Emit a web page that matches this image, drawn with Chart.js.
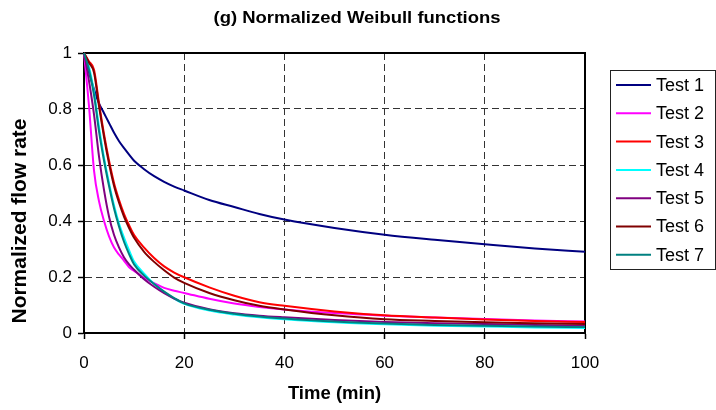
<!DOCTYPE html>
<html>
<head>
<meta charset="utf-8">
<script src="https://cdn.jsdelivr.net/npm/chart.js@4/dist/chart.umd.min.js"></script>
<style>
html,body{margin:0;padding:0;background:#fff;}
#wrap{width:716px;height:410px;}
</style>
</head>
<body>
<div id="wrap"><canvas id="c" width="716" height="410"></canvas></div>
<script>
const chartTitle = "(g) Normalized Weibull functions";
const xTitle = "Time (min)";
const yTitle = "Normalized flow rate";
const seriesNames = ["Test 1","Test 2","Test 3","Test 4","Test 5","Test 6","Test 7"];
const seriesColors = ["#000080","#FF00FF","#FF0000","#00FFFF","#800080","#800000","#008080"];
const xTicks = [0,20,40,60,80,100];
const yTicks = [0,0.2,0.4,0.6,0.8,1];
const yTickLabels = ["0","0.2","0.4","0.6","0.8","1"];

const times = [0,1,2,3,4,5,6,7,8,9,10,12,14,16,18,20,25,30,35,40,50,60,70,80,90,100];
const test1 = [1,0.93,0.87,0.82,0.785,0.75,0.715,0.685,0.66,0.637,0.615,0.585,0.56,0.54,0.523,0.509,0.475,0.45,0.425,0.405,0.375,0.351,0.333,0.317,0.302,0.29];
const test2 = [1,0.81,0.58,0.47,0.40,0.345,0.305,0.28,0.258,0.235,0.222,0.197,0.178,0.161,0.151,0.143,0.122,0.105,0.093,0.084,0.071,0.062,0.055,0.05,0.045,0.041];
const test3 = [1,0.97,0.94,0.82,0.71,0.615,0.535,0.475,0.425,0.385,0.35,0.305,0.268,0.238,0.216,0.199,0.163,0.133,0.11,0.097,0.077,0.063,0.055,0.048,0.043,0.039];
const test4 = [1,0.95,0.86,0.735,0.625,0.535,0.455,0.39,0.34,0.295,0.255,0.212,0.175,0.146,0.123,0.104,0.08,0.066,0.056,0.049,0.038,0.031,0.026,0.023,0.02,0.018];
const test5 = [1,0.9,0.78,0.63,0.51,0.415,0.35,0.305,0.27,0.245,0.226,0.192,0.165,0.142,0.123,0.108,0.085,0.071,0.062,0.056,0.046,0.039,0.035,0.032,0.029,0.026];
const test6 = [1,0.965,0.93,0.81,0.70,0.605,0.525,0.465,0.415,0.375,0.34,0.29,0.254,0.224,0.198,0.179,0.143,0.117,0.097,0.084,0.063,0.049,0.043,0.038,0.035,0.032];
const test7 = [1,0.94,0.85,0.72,0.615,0.525,0.445,0.38,0.325,0.282,0.245,0.205,0.175,0.148,0.125,0.106,0.083,0.069,0.059,0.052,0.041,0.034,0.029,0.026,0.023,0.021];

const allSeries = [test1,test2,test3,test4,test5,test6,test7];
const FONT = "'Liberation Sans', Arial, sans-serif";

const datasets = allSeries.map((arr, i) => ({
  label: seriesNames[i],
  data: times.map((t, k) => ({x: t, y: arr[k]})),
  borderColor: seriesColors[i],
  backgroundColor: seriesColors[i],
  borderWidth: 2,
  pointRadius: 0,
  fill: false,
  cubicInterpolationMode: 'monotone',
  clip: false,
  order: allSeries.length - 1 - i
}));

const decor = {
  id: 'decor',
  beforeDatasetsDraw(chart) {
    const ctx = chart.ctx, a = chart.chartArea;
    ctx.save();
    ctx.strokeStyle = '#000';
    ctx.lineWidth = 2;
    ctx.beginPath();
    ctx.moveTo(a.left, a.top);
    ctx.lineTo(a.right, a.top);
    ctx.lineTo(a.right, a.bottom);
    ctx.stroke();
    ctx.restore();
  },
  afterDraw(chart) {
    const ctx = chart.ctx, a = chart.chartArea;
    ctx.save();
    ctx.fillStyle = '#000';
    // chart title
    ctx.font = "bold 16px " + FONT;
    ctx.textAlign = 'center';
    ctx.textBaseline = 'middle';
    const tw = ctx.measureText(chartTitle).width;
    ctx.save();
    ctx.translate(357, 19);
    ctx.scale(287 / tw, 1);
    ctx.fillText(chartTitle, 0, 0);
    ctx.restore();
    // x title
    ctx.font = "bold 18.5px " + FONT;
    ctx.fillText(xTitle, (a.left + a.right) / 2, 394);
    // y title
    ctx.save();
    ctx.translate(20, 221);
    ctx.rotate(-Math.PI / 2);
    ctx.font = "bold 20px " + FONT;
    const yw = ctx.measureText(yTitle).width;
    ctx.scale(205 / yw, 1);
    ctx.fillText(yTitle, 0, 0);
    ctx.restore();
    // legend
    const lx = 610.5, ly = 70.5, lw = 105, lh = 199;
    ctx.strokeStyle = '#222';
    ctx.lineWidth = 1;
    ctx.strokeRect(lx, ly, lw, lh);
    ctx.font = "18px " + FONT;
    ctx.textAlign = 'left';
    ctx.textBaseline = 'middle';
    chart.data.datasets.forEach((ds, i) => {
      const yy = 85 + i * 28.3;
      ctx.strokeStyle = ds.borderColor;
      ctx.lineWidth = 2;
      ctx.beginPath();
      ctx.moveTo(616, yy);
      ctx.lineTo(651, yy);
      ctx.stroke();
      ctx.fillStyle = '#000';
      ctx.fillText(ds.label, 656, yy + 1);
    });
    ctx.restore();
  }
};

new Chart(document.getElementById('c'), {
  type: 'line',
  data: { datasets },
  options: {
    responsive: false,
    animation: false,
    events: [],
    layout: { padding: { left: 40, top: 53, right: 131, bottom: 0 } },
    plugins: { legend: { display: false }, tooltip: { enabled: false }, title: { display: false } },
    scales: {
      x: {
        type: 'linear', min: 0, max: 100,
        afterBuildTicks: s => { s.ticks = xTicks.map(v => ({value: v})); },
        ticks: { color: '#000', font: { family: FONT, size: 17 }, padding: 14, maxRotation: 0, autoSkip: false,
                 callback: v => String(xTicks[xTicks.indexOf(v)] ?? v) },
        grid: { color: '#333', lineWidth: 1, tickLength: 6, tickColor: '#000', tickWidth: 1.5, tickBorderDash: [] },
        border: { color: '#000', width: 2, dash: [7, 4] },
        afterFit: s => { s.height = 77; }
      },
      y: {
        type: 'linear', min: 0, max: 1,
        afterBuildTicks: s => { s.ticks = yTicks.map(v => ({value: v})); },
        ticks: { color: '#000', font: { family: FONT, size: 17 }, padding: 6, autoSkip: false,
                 callback: (v, i) => yTickLabels[i] },
        grid: { color: '#333', lineWidth: 1, tickLength: 6, tickColor: '#000', tickWidth: 1.5, tickBorderDash: [] },
        border: { color: '#000', width: 2, dash: [7, 4] },
        afterFit: s => { s.width = 44; }
      }
    }
  },
  plugins: [decor]
});
</script>
</body>
</html>
